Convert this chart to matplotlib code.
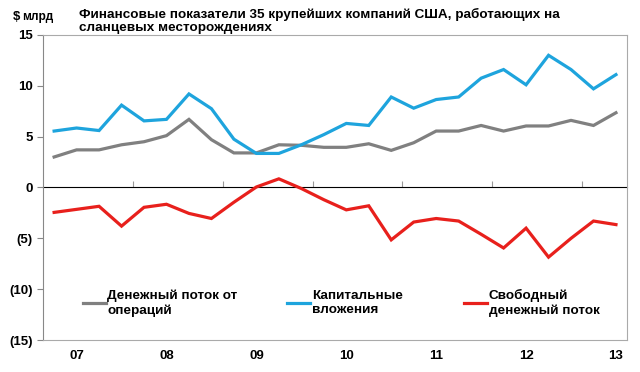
import matplotlib
matplotlib.use('Agg')
import matplotlib.pyplot as plt
from matplotlib.lines import Line2D
import numpy as np

plt.rcParams['font.family'] = ['Liberation Sans', 'DejaVu Sans']
plt.rcParams['font.weight'] = 'bold'

# quarterly values, $ bn (2007 Q1 .. 2013 Q2)
cash_flow_ops = [3.0, 3.7, 3.7, 4.2, 4.5, 5.1, 6.7, 4.7, 3.4, 3.4, 4.2, 4.15,
                 3.95, 3.95, 4.3, 3.65, 4.4, 5.55, 5.55, 6.1, 5.55, 6.05, 6.05,
                 6.6, 6.1, 7.35]
capex = [5.55, 5.85, 5.6, 8.1, 6.55, 6.7, 9.2, 7.75, 4.75, 3.35, 3.35, 4.2,
         5.2, 6.3, 6.1, 8.9, 7.8, 8.65, 8.9, 10.75, 11.6, 10.1, 13.0, 11.6,
         9.7, 11.1]
free_cash_flow = [-2.45, -2.15, -1.85, -3.8, -1.95, -1.65, -2.55, -3.05, -1.45,
                  0.05, 0.85, -0.1, -1.2, -2.2, -1.8, -5.15, -3.4, -3.05, -3.3,
                  -4.6, -5.95, -4.0, -6.85, -5.0, -3.3, -3.65]
year_labels = ['07', '08', '09', '10', '11', '12', '13']
series_names = ['Денежный поток от\nопераций', 'Капитальные\nвложения',
                'Свободный\nденежный поток']
colors = ['#808080', '#1ea4dd', '#e8201c']

x = np.arange(len(capex))

fig = plt.figure(figsize=(6.4, 3.72), dpi=100)
ax = fig.add_axes([0.067, 0.086, 0.913, 0.82])

lines = []
for vals, c in zip([cash_flow_ops, capex, free_cash_flow], colors):
    ln, = ax.plot(x, vals, color=c, lw=2.3, solid_joinstyle='miter')
    lines.append(ln)

ax.set_xlim(-0.5, len(x) - 0.5)
ax.set_ylim(-15, 15)
yt = np.arange(-15, 16, 5)
ax.set_yticks(yt)
ax.set_yticklabels([f'({-v})' if v < 0 else str(v) for v in yt],
                   fontsize=9.5, fontweight='bold')
ax.tick_params(axis='y', direction='out', length=4, color='#888888', pad=3.5)

ax.set_xticks(x[1::4])
ax.set_xticklabels(year_labels, fontsize=9.5, fontweight='bold')
ax.tick_params(axis='x', length=0, pad=7)

for s in ax.spines.values():
    s.set_color('#aaaaaa')
    s.set_linewidth(0.8)
ax.spines['left'].set_color('#888888')

# zero line with tick marks between years
zero_ax = ax.secondary_xaxis(0.5)
zero_ax.set_xticks(np.arange(3.5, len(x) - 1, 4))
zero_ax.set_xticklabels([])
zero_ax.tick_params(direction='out', length=4, color='#999999')
zero_ax.spines['bottom'].set_color('#999999')
zero_ax.spines['bottom'].set_linewidth(0.8)

# legend, one box per series (the last one stays as ax.legend_)
anchors = [(0.0686, 0.121), (0.418, 0.121), (0.7207, 0.121)]
for i, (ln, name, anc) in enumerate(zip(lines, series_names, anchors)):
    h = Line2D([], [], color=ln.get_color(), lw=2.3)
    leg = ax.legend([h], [name], loc='center left', bbox_to_anchor=anc,
                    frameon=False, handlelength=1.7, handletextpad=0.12,
                    borderpad=0, borderaxespad=0, labelspacing=0,
                    prop={'size': 9.7, 'weight': 'bold'})
    if i < len(lines) - 1:
        ax.add_artist(leg)

fig.text(0.123, 0.978, 'Финансовые показатели 35 крупейших компаний США, работающих на\n'
         'сланцевых месторождениях', fontsize=9.7, fontweight='bold',
         va='top', ha='left', linespacing=1.05)
fig.text(0.02, 0.955, '$', fontsize=9.5, fontweight='bold', va='center')
fig.text(0.035, 0.953, 'млрд', fontsize=8.6, fontweight='bold', va='center')

fig.savefig('out.png', dpi=100)
